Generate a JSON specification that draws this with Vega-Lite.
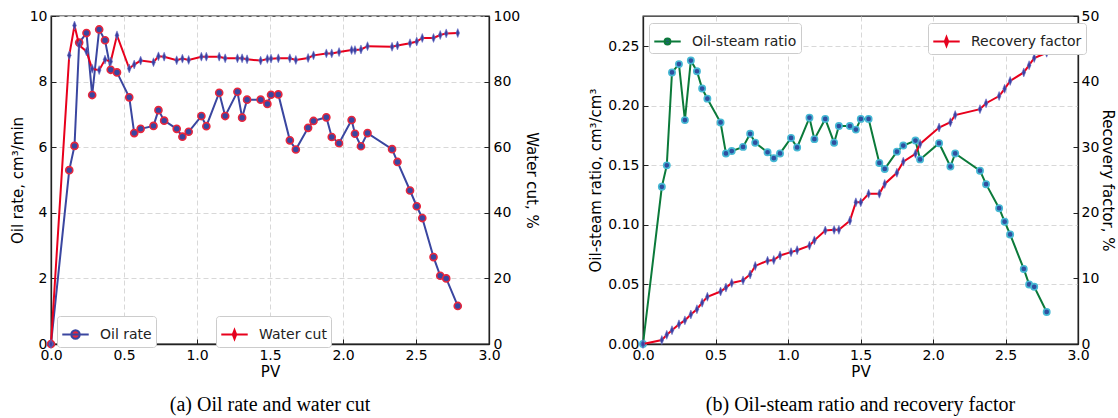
{
  "$schema": "https://vega.github.io/schema/vega-lite/v6.json",
  "background": "white",
  "padding": {"left": 9, "top": 8, "right": 0, "bottom": 2},
  "spacing": 48,
  "datasets": {
    "left": [
      {"pv": 0, "oil": 0, "wc": 0},
      {"pv": 0.125, "oil": 5.30, "wc": 88.0},
      {"pv": 0.161, "oil": 6.04, "wc": 97.1},
      {"pv": 0.193, "oil": 9.19, "wc": 91.1},
      {"pv": 0.243, "oil": 9.48, "wc": 89.2},
      {"pv": 0.282, "oil": 7.59, "wc": 83.9},
      {"pv": 0.330, "oil": 9.59, "wc": 83.5},
      {"pv": 0.370, "oil": 9.26, "wc": 86.7},
      {"pv": 0.409, "oil": 8.36, "wc": 86.1},
      {"pv": 0.452, "oil": 8.28, "wc": 94.1},
      {"pv": 0.536, "oil": 7.52, "wc": 84.0},
      {"pv": 0.570, "oil": 6.43, "wc": 85.2},
      {"pv": 0.614, "oil": 6.56, "wc": 86.4},
      {"pv": 0.702, "oil": 6.65, "wc": 85.9},
      {"pv": 0.736, "oil": 7.13, "wc": 87.7},
      {"pv": 0.775, "oil": 6.81, "wc": 87.6},
      {"pv": 0.861, "oil": 6.56, "wc": 86.5},
      {"pv": 0.900, "oil": 6.32, "wc": 87.0},
      {"pv": 0.943, "oil": 6.47, "wc": 86.6},
      {"pv": 1.030, "oil": 6.95, "wc": 87.6},
      {"pv": 1.064, "oil": 6.64, "wc": 87.6},
      {"pv": 1.152, "oil": 7.66, "wc": 87.6},
      {"pv": 1.193, "oil": 6.95, "wc": 87.1},
      {"pv": 1.277, "oil": 7.69, "wc": 87.1},
      {"pv": 1.309, "oil": 6.90, "wc": 87.1},
      {"pv": 1.343, "oil": 7.45, "wc": 86.8},
      {"pv": 1.436, "oil": 7.45, "wc": 86.4},
      {"pv": 1.482, "oil": 7.32, "wc": 86.9},
      {"pv": 1.507, "oil": 7.60, "wc": 87.0},
      {"pv": 1.557, "oil": 7.61, "wc": 87.1},
      {"pv": 1.636, "oil": 6.21, "wc": 87.1},
      {"pv": 1.677, "oil": 5.93, "wc": 86.6},
      {"pv": 1.761, "oil": 6.59, "wc": 87.2},
      {"pv": 1.798, "oil": 6.80, "wc": 88.0},
      {"pv": 1.886, "oil": 6.91, "wc": 88.6},
      {"pv": 1.923, "oil": 6.31, "wc": 88.6},
      {"pv": 1.973, "oil": 6.12, "wc": 89.0},
      {"pv": 2.059, "oil": 6.83, "wc": 89.6},
      {"pv": 2.082, "oil": 6.41, "wc": 89.6},
      {"pv": 2.123, "oil": 6.03, "wc": 89.8},
      {"pv": 2.168, "oil": 6.43, "wc": 90.8},
      {"pv": 2.336, "oil": 5.94, "wc": 90.6},
      {"pv": 2.373, "oil": 5.55, "wc": 91.0},
      {"pv": 2.459, "oil": 4.68, "wc": 91.7},
      {"pv": 2.505, "oil": 4.20, "wc": 92.2},
      {"pv": 2.543, "oil": 3.84, "wc": 93.3},
      {"pv": 2.620, "oil": 2.65, "wc": 93.3},
      {"pv": 2.666, "oil": 2.08, "wc": 94.2},
      {"pv": 2.707, "oil": 2.00, "wc": 94.7},
      {"pv": 2.786, "oil": 1.16, "wc": 94.8}
    ],
    "right": [
      {"pv": 0, "osr": 0, "rf": 0},
      {"pv": 0.130, "osr": 0.132, "rf": 0.6},
      {"pv": 0.164, "osr": 0.150, "rf": 1.4},
      {"pv": 0.200, "osr": 0.228, "rf": 2.1},
      {"pv": 0.248, "osr": 0.235, "rf": 3.0},
      {"pv": 0.289, "osr": 0.188, "rf": 3.6},
      {"pv": 0.330, "osr": 0.238, "rf": 4.5},
      {"pv": 0.372, "osr": 0.229, "rf": 5.3},
      {"pv": 0.408, "osr": 0.2145, "rf": 6.3},
      {"pv": 0.444, "osr": 0.206, "rf": 7.2},
      {"pv": 0.535, "osr": 0.186, "rf": 8.0},
      {"pv": 0.572, "osr": 0.160, "rf": 8.6},
      {"pv": 0.612, "osr": 0.162, "rf": 9.3},
      {"pv": 0.690, "osr": 0.1655, "rf": 9.7},
      {"pv": 0.739, "osr": 0.1765, "rf": 10.6},
      {"pv": 0.774, "osr": 0.169, "rf": 11.9},
      {"pv": 0.859, "osr": 0.161, "rf": 12.7},
      {"pv": 0.902, "osr": 0.156, "rf": 12.8},
      {"pv": 0.945, "osr": 0.160, "rf": 13.5},
      {"pv": 1.021, "osr": 0.173, "rf": 14.0},
      {"pv": 1.063, "osr": 0.165, "rf": 14.3},
      {"pv": 1.148, "osr": 0.190, "rf": 15.0},
      {"pv": 1.182, "osr": 0.172, "rf": 15.8},
      {"pv": 1.257, "osr": 0.189, "rf": 17.3},
      {"pv": 1.318, "osr": 0.169, "rf": 17.4},
      {"pv": 1.351, "osr": 0.183, "rf": 17.4},
      {"pv": 1.427, "osr": 0.183, "rf": 18.8},
      {"pv": 1.468, "osr": 0.180, "rf": 21.6},
      {"pv": 1.502, "osr": 0.189, "rf": 21.6},
      {"pv": 1.556, "osr": 0.189, "rf": 22.9},
      {"pv": 1.630, "osr": 0.152, "rf": 22.9},
      {"pv": 1.667, "osr": 0.147, "rf": 24.4},
      {"pv": 1.751, "osr": 0.1615, "rf": 26.1},
      {"pv": 1.795, "osr": 0.1666, "rf": 27.8},
      {"pv": 1.879, "osr": 0.1708, "rf": 29.0},
      {"pv": 1.911, "osr": 0.155, "rf": 30.5},
      {"pv": 2.042, "osr": 0.1686, "rf": 33.0},
      {"pv": 2.120, "osr": 0.149, "rf": 33.8},
      {"pv": 2.153, "osr": 0.160, "rf": 34.9},
      {"pv": 2.324, "osr": 0.1455, "rf": 35.8},
      {"pv": 2.366, "osr": 0.1342, "rf": 36.7},
      {"pv": 2.456, "osr": 0.114, "rf": 37.8},
      {"pv": 2.494, "osr": 0.1027, "rf": 38.9},
      {"pv": 2.532, "osr": 0.092, "rf": 40.1},
      {"pv": 2.626, "osr": 0.063, "rf": 41.4},
      {"pv": 2.663, "osr": 0.050, "rf": 42.5},
      {"pv": 2.698, "osr": 0.048, "rf": 43.6},
      {"pv": 2.784, "osr": 0.0269, "rf": 44.4}
    ]
  },
  "hconcat": [
    {
      "width": 438,
      "height": 328,
      "data": {"name": "left"},
      "title": {"text": "(a) Oil rate and water cut", "orient": "bottom", "anchor": "middle", "font": "Liberation Serif", "fontSize": 20, "fontWeight": "normal", "color": "black", "offset": 16},
      "layer": [
        {
          "encoding": {
            "x": {"field": "pv", "type": "quantitative", "scale": {"domain": [0, 3], "nice": false}, "axis": {"values": [0, 0.5, 1, 1.5, 2, 2.5, 3], "format": ".1f", "title": "PV"}},
            "y": {"field": "oil", "type": "quantitative", "scale": {"domain": [0, 10], "nice": false}, "axis": {"orient": "left", "values": [0, 2, 4, 6, 8, 10], "title": "Oil rate, cm³/min"}}
          },
          "layer": [
            {
              "mark": {"type": "line", "strokeWidth": 2},
              "encoding": {
                "color": {"datum": "Oil rate", "type": "nominal", "scale": {"domain": ["Oil rate"], "range": ["#3a46a0"]},
                  "legend": {"orient": "none", "legendX": 6, "legendY": 300, "title": null, "symbolType": "M-1,0H1M0.32,0A0.32,0.32 0 1,1 -0.32,0A0.32,0.32 0 1,1 0.32,0Z", "symbolSize": 700, "symbolStrokeWidth": 2, "labelOffset": 10,
                    "encode": {"symbols": {"update": {"fill": {"value": "#e8263c"}}}}}}
              }
            },
            {
              "mark": {"type": "point", "shape": "circle", "filled": true, "fill": "#3a46a0", "stroke": "#e8263c", "strokeWidth": 1.6, "size": 50, "opacity": 1}
            }
          ]
        },
        {
          "encoding": {
            "x": {"field": "pv", "type": "quantitative", "scale": {"domain": [0, 3], "nice": false}, "axis": {"values": [0, 0.5, 1, 1.5, 2, 2.5, 3], "format": ".1f", "title": "PV"}},
            "y": {"field": "wc", "type": "quantitative", "scale": {"domain": [0, 100], "nice": false}, "axis": {"orient": "right", "values": [0, 20, 40, 60, 80, 100], "grid": false, "title": "Water cut, %"}}
          },
          "layer": [
            {
              "mark": {"type": "line", "strokeWidth": 2},
              "encoding": {
                "color": {"datum": "Water cut", "type": "nominal", "scale": {"domain": ["Water cut"], "range": ["#e8001c"]},
                  "legend": {"orient": "none", "legendX": 165, "legendY": 300, "title": null, "symbolType": "M-1,0H1M0,-0.34L0.13,0L0,0.34L-0.13,0Z", "symbolSize": 700, "symbolStrokeWidth": 2, "labelOffset": 10,
                    "encode": {"symbols": {"update": {"fill": {"value": "#3a3fa0"}}}}}}
              }
            },
            {
              "mark": {"type": "point", "shape": "M0,-1L0.4,0L0,1L-0.4,0Z", "filled": true, "fill": "#3a3fa0", "stroke": "#6a70c8", "strokeWidth": 0.6, "size": 80, "opacity": 1}
            }
          ]
        }
      ],
      "resolve": {"scale": {"y": "independent", "color": "independent"}, "legend": {"color": "independent"}}
    },
    {
      "width": 435,
      "height": 328,
      "data": {"name": "right"},
      "title": {"text": "(b) Oil-steam ratio and recovery factor", "orient": "bottom", "anchor": "middle", "font": "Liberation Serif", "fontSize": 20, "fontWeight": "normal", "color": "black", "offset": 16},
      "layer": [
        {
          "encoding": {
            "x": {"field": "pv", "type": "quantitative", "scale": {"domain": [0, 3], "nice": false}, "axis": {"values": [0, 0.5, 1, 1.5, 2, 2.5, 3], "format": ".1f", "title": "PV"}},
            "y": {"field": "osr", "type": "quantitative", "scale": {"domain": [0, 0.2754], "nice": false}, "axis": {"orient": "left", "values": [0, 0.05, 0.1, 0.15, 0.2, 0.25], "format": ".2f", "title": "Oil-steam ratio, cm³/cm³"}}
          },
          "layer": [
            {
              "mark": {"type": "line", "strokeWidth": 2},
              "encoding": {
                "color": {"datum": "Oil-steam ratio", "type": "nominal", "scale": {"domain": ["Oil-steam ratio"], "range": ["#0b7a3a"]},
                  "legend": {"orient": "none", "legendX": 6, "legendY": 7, "title": null, "symbolType": "M-1,0H1M0.22,0A0.22,0.22 0 1,1 -0.22,0A0.22,0.22 0 1,1 0.22,0Z", "symbolSize": 700, "symbolStrokeWidth": 2, "labelOffset": 10,
                    "encode": {"symbols": {"update": {"fill": {"value": "#2f4f9f"}}}}}}
              }
            },
            {
              "mark": {"type": "point", "shape": "circle", "filled": true, "fill": "#2f4f9f", "stroke": "#45b9d4", "strokeWidth": 1.6, "size": 40, "opacity": 1}
            }
          ]
        },
        {
          "encoding": {
            "x": {"field": "pv", "type": "quantitative", "scale": {"domain": [0, 3], "nice": false}, "axis": {"values": [0, 0.5, 1, 1.5, 2, 2.5, 3], "format": ".1f", "title": "PV"}},
            "y": {"field": "rf", "type": "quantitative", "scale": {"domain": [0, 50], "nice": false}, "axis": {"orient": "right", "values": [0, 10, 20, 30, 40, 50], "grid": false, "title": "Recovery factor, %", "titlePadding": 1, "labelPadding": 8}}
          },
          "layer": [
            {
              "mark": {"type": "line", "strokeWidth": 2},
              "encoding": {
                "color": {"datum": "Recovery factor", "type": "nominal", "scale": {"domain": ["Recovery factor"], "range": ["#e8001c"]},
                  "legend": {"orient": "none", "legendX": 285, "legendY": 7, "title": null, "symbolType": "M-1,0H1M0,-0.34L0.13,0L0,0.34L-0.13,0Z", "symbolSize": 700, "symbolStrokeWidth": 2, "labelOffset": 10,
                    "encode": {"symbols": {"update": {"fill": {"value": "#3a3fa0"}}}}}}
              }
            },
            {
              "mark": {"type": "point", "shape": "M0,-1L0.4,0L0,1L-0.4,0Z", "filled": true, "fill": "#3a3fa0", "stroke": "#6a70c8", "strokeWidth": 0.6, "size": 80, "opacity": 1}
            }
          ]
        }
      ],
      "resolve": {"scale": {"y": "independent", "color": "independent"}, "legend": {"color": "independent"}}
    }
  ],
  "config": {
    "font": "DejaVu Sans",
    "view": {"stroke": "#222222", "strokeWidth": 1.3},
    "axis": {
      "labelFont": "DejaVu Sans", "labelFontSize": 14, "labelColor": "black",
      "titleFont": "DejaVu Sans", "titleFontSize": 15, "titleFontWeight": "normal", "titleColor": "black",
      "domainColor": "#222222", "domainWidth": 1.3,
      "tickColor": "#222222", "tickSize": -5, "tickWidth": 1,
      "labelPadding": 9,
      "grid": true, "gridColor": "#d4d4d4", "gridDash": [5, 3], "gridWidth": 0.9
    },
    "axisX": {"titlePadding": 2, "labelFlush": false},
    "axisY": {"titlePadding": 4},
    "legend": {
      "labelFont": "DejaVu Sans", "labelFontSize": 14, "labelColor": "#222222",
      "fillColor": "white", "strokeColor": "#cccccc", "cornerRadius": 3, "padding": 4,
      "rowPadding": 0
    }
  }
}
